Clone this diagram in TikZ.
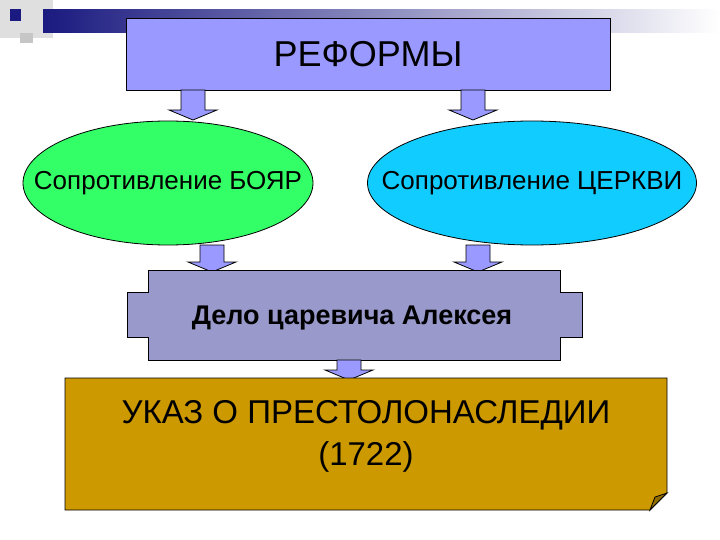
\documentclass[tikz,border=0pt]{standalone}
\usepackage{fontspec}
\setmainfont{Liberation Sans}
\usetikzlibrary{shapes.geometric}
\definecolor{topc}{HTML}{9999FF}
\definecolor{grn}{HTML}{33FF66}
\definecolor{cyn}{HTML}{11CCFF}
\definecolor{plq}{HTML}{9999CC}
\definecolor{gold}{HTML}{CC9900}
\definecolor{navy}{HTML}{1A1A80}
\tikzset{
  blk/.style={draw=black, line width=0.8pt},
  dn/.style={blk, fill=topc},
}
\newcommand{\downarrowshape}[3]{% x, ytop, ybottom
  \draw[dn] (#1-12,#2) -- (#1+12,#2) -- (#1+12,#3-10) -- (#1+24,#3-10) -- (#1,#3) -- (#1-24,#3-10) -- (#1-12,#3-10) -- cycle;}
\begin{document}
\begin{tikzpicture}[x=1pt,y=-1pt]
\useasboundingbox (0,0) rectangle (720,540);
% decoration
\fill[gray!25] (0,0) rectangle (53,38);
\fill[gray!45] (20,33) rectangle (33,43);
\shade[left color=navy, right color=white] (43,10) rectangle (720,33);
\fill[navy] (10,9) rectangle (21,21);
% top box
\node[blk, fill=topc, minimum width=484, minimum height=72, font=\fontsize{36}{40}\selectfont] (ref) at (368,54) {РЕФОРМЫ};
\downarrowshape{193}{90}{120}
\downarrowshape{473}{90}{120}
% ellipses
\node[blk, ellipse, fill=grn, minimum width=290, minimum height=124, inner sep=0pt] (boy) at (168,183) {};
\node[font=\fontsize{26}{30}\selectfont] at (boy) {Сопротивление БОЯР};
\node[blk, ellipse, fill=cyn, minimum width=329, minimum height=124, inner sep=0pt] (cer) at (532,183) {};
\node[font=\fontsize{26}{30}\selectfont] at (cer) {Сопротивление ЦЕРКВИ};
\downarrowshape{212}{245}{272}
\downarrowshape{478}{245}{272}
% plaque
\draw[blk, fill=plq] (148,270) -- (560,270) -- (560,292) -- (582,292) -- (582,337) -- (560,337) -- (560,360) -- (148,360) -- (148,337) -- (127,337) -- (127,292) -- (148,292) -- cycle;
\node[font=\bfseries\fontsize{27}{30}\selectfont] (del) at (352,318) {Дело царевича Алексея};
\downarrowshape{349}{360}{380}
% bottom
\draw[blk, fill=gold] (65,378) -- (667,378) -- (667,493) -- (650,510) -- (65,510) -- cycle;
\draw[blk, fill=gold!70!black] (650,510) -- (655,497) -- (667,493) -- cycle;
\node[align=center, font=\fontsize{33}{42}\selectfont] (ukaz) at (366,436) {УКАЗ О ПРЕСТОЛОНАСЛЕДИИ\\(1722)};
\end{tikzpicture}
\end{document}
